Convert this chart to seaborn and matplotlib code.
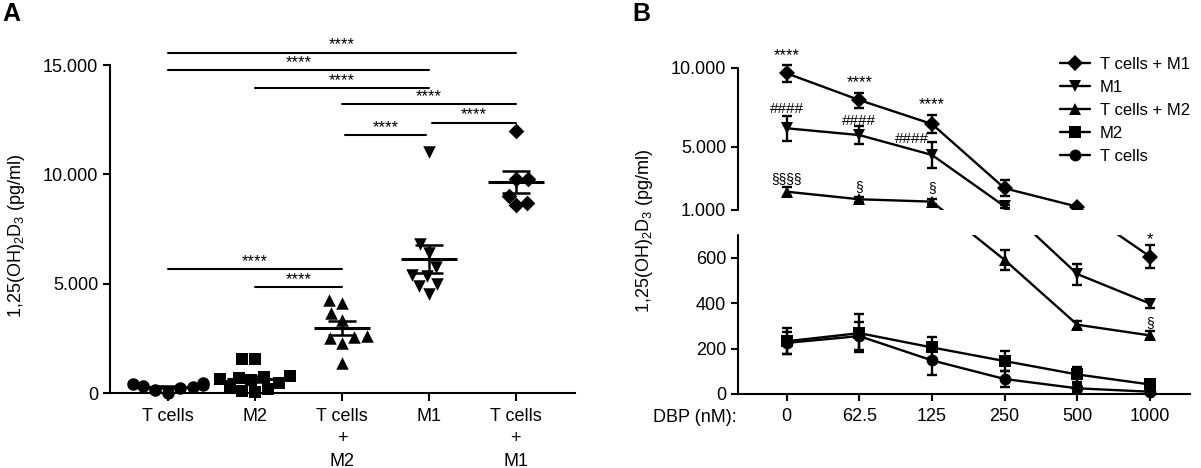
import warnings
import numpy as np
import pandas as pd
import matplotlib
matplotlib.use('Agg')
import matplotlib.pyplot as plt
import seaborn as sns

warnings.filterwarnings('ignore')

# ---- panel A data: 1,25(OH)2D3 per culture (pg/ml)
groups_a = ['T cells', 'M2', 'T cells\n+\nM2', 'M1', 'T cells\n+\nM1']
tcells_a = [420, 450, 380, 330, 280, 250, 150, 20]
m2_a = [1550, 1550, 800, 750, 700, 650, 600, 450, 300, 200, 100, 50]
tcm2_a = [4250, 4100, 3650, 3350, 2600, 2550, 2500, 2300, 1350]
m1_a = [11000, 6800, 6400, 5750, 5400, 5350, 5000, 4900, 4550]
tcm1_a = [12000, 9800, 9800, 9000, 8600, 8700]
markers_a = ['o', 's', '^', 'v', 'D']
yticks_a = [0, 5000, 10000, 15000]
ytick_labels_a = ['0', '5.000', '10.000', '15.000']
# significance brackets: (from, to, height)
sig_a = [(0, 4, 15570), (0, 3, 14750), (1, 3, 13930), (2, 4, 13200),
         (3.03, 4, 12370), (2.03, 2.97, 11780), (0, 2, 5660), (1, 2, 4840)]

# ---- panel B data: mean and SEM per DBP dose
doses = ['0', '62.5', '125', '250', '500', '1000']
series_b = ['T cells + M1', 'M1', 'T cells + M2', 'M2', 'T cells']
tcm1_mean = [9665, 7970, 6450, 2375, 1210, 605]
tcm1_sem = [530, 475, 560, 500, 90, 50]
m1_mean = [6180, 5750, 4490, 1230, 528, 398]
m1_sem = [800, 560, 850, 80, 46, 18]
tcm2_mean = [2160, 1680, 1530, 590, 305, 258]
tcm2_sem = [300, 150, 150, 44, 18, 18]
m2_mean = [232, 268, 205, 145, 86, 42]
m2_sem = [58, 84, 48, 45, 35, 15]
tc_mean = [225, 255, 148, 66, 25, 10]
tc_sem = [50, 60, 66, 35, 17, 10]
markers_b = {'T cells + M1': 'D', 'M1': 'v', 'T cells + M2': '^', 'M2': 's', 'T cells': 'o'}
yticks_b = [0, 200, 400, 600, 1000, 5000, 10000]
ytick_labels_b = ['0', '200', '400', '600', '1.000', '5.000', '10.000']
# annotations: (text, x position, y value)
notes_b = [('****', 0, 10800), ('****', 1, 9050), ('****', 2, 7650),
           ('####', 0, 7380), ('####', 1, 6640), ('####', 1.73, 5480),
           ('§§§§', 0, 2945), ('§', 1, 2480), ('§', 2, 2375),
           ('*', 5, 680), ('§', 5, 314)]

sns.set_theme(style='ticks', rc={
    'axes.edgecolor': 'black', 'axes.linewidth': 1.5,
    'xtick.color': 'black', 'ytick.color': 'black',
    'text.color': 'black', 'axes.labelcolor': 'black',
    'xtick.major.width': 1.5, 'ytick.major.width': 1.5,
})
plt.rcParams['font.family'] = ['Liberation Sans', 'DejaVu Sans']
plt.rcParams['mathtext.fontset'] = 'custom'
plt.rcParams['mathtext.rm'] = 'Liberation Sans'
plt.rcParams['mathtext.default'] = 'regular'

ylabel = '1,25(OH)$_2$D$_3$ (pg/ml)'

fig = plt.figure(figsize=(12.01, 4.68), dpi=100)

# ================= panel A =================
axA = fig.add_axes([110 / 1201, 1 - 393 / 468, 465 / 1201, 328 / 468])
values_a = [tcells_a, m2_a, tcm2_a, m1_a, tcm1_a]
for i, (vals, mk) in enumerate(zip(values_a, markers_a)):
    sns.swarmplot(x=[groups_a[i]] * len(vals), y=vals, order=groups_a, marker=mk,
                  color='black', size=9 if mk != 'D' else 8, linewidth=0, ax=axA,
                  clip_on=False, zorder=3)
    m = np.mean(vals)
    se = np.std(vals, ddof=1) / np.sqrt(len(vals))
    axA.hlines(m, i - 0.32, i + 0.32, color='black', lw=2.2, zorder=4)
    axA.errorbar(i, m, yerr=se, fmt='none', ecolor='black', elinewidth=1.8,
                 capsize=10, capthick=1.8, zorder=4)

for x1, x2, h in sig_a:
    axA.plot([x1, x2], [h, h], color='black', lw=1.5, clip_on=False)
    axA.text((x1 + x2) / 2, h + 20, '****', ha='center', va='bottom', fontsize=12)

axA.set_xlim(-0.667, 4.68)
axA.set_ylim(0, 15000)
axA.set_yticks(yticks_a)
axA.set_yticklabels(ytick_labels_a)
axA.set_xlabel('')
axA.set_ylabel(ylabel, fontsize=13)
axA.yaxis.set_label_coords(-0.178, 0.48)
axA.tick_params(axis='y', labelsize=13, length=5)
axA.tick_params(axis='x', labelsize=13, length=6, pad=5)
for lab in axA.get_xticklabels():
    lab.set_linespacing(1.4)
sns.despine(ax=axA)
fig.text(0.002, 0.995, 'A', fontsize=18, fontweight='bold', va='top', ha='left')

# ================= panel B (broken y axis) =================
axB = fig.add_axes([738 / 1201, 1 - 394 / 468, 452 / 1201, 326 / 468])


def fwd(y):
    y = np.asarray(y, dtype=float)
    return np.where(y <= 700, y * 159 / 700,
                    np.where(y <= 1000, 159 + (y - 700) * 25 / 300,
                             184 + (y - 1000) * 142 / 9000))


def inv(v):
    v = np.asarray(v, dtype=float)
    return np.where(v <= 159, v * 700 / 159,
                    np.where(v <= 184, 700 + (v - 159) * 300 / 25,
                             1000 + (v - 184) * 9000 / 142))


axB.set_yscale('function', functions=(fwd, inv))

means_b = [tcm1_mean, m1_mean, tcm2_mean, m2_mean, tc_mean]
sems_b = [tcm1_sem, m1_sem, tcm2_sem, m2_sem, tc_sem]
pos = np.arange(len(doses))
df_b = pd.DataFrame({
    'dose': np.tile(pos, len(series_b)),
    'value': np.concatenate(means_b),
    'group': np.repeat(series_b, len(doses)),
})
sns.lineplot(data=df_b, x='dose', y='value', hue='group', style='group',
             hue_order=series_b, style_order=series_b,
             palette=['black'] * len(series_b), markers=markers_b, dashes=False,
             markersize=8.5, markeredgewidth=0, lw=1.7, ax=axB, clip_on=False, zorder=2)
for mean, sem in zip(means_b, sems_b):
    axB.errorbar(pos, mean, yerr=sem, fmt='none', ecolor='black', elinewidth=1.7,
                 capsize=3.5, capthick=1.7, clip_on=False, zorder=3)

axB.set_xlim(-0.668, 5.55)
axB.set_ylim(0, 10000)
# hide the gap of the broken axis
axB.axhspan(700, 1000, color='white', zorder=2.5, lw=0)
trans = axB.get_yaxis_transform()
axB.plot([0, 0], [0, 700], transform=trans, color='black', lw=1.5, clip_on=False, zorder=6)
axB.plot([0, 0], [1000, 10000], transform=trans, color='black', lw=1.5, clip_on=False, zorder=6)
axB.spines['left'].set_visible(False)
sns.despine(ax=axB, left=True)

axB.set_yticks(yticks_b)
axB.set_yticklabels(ytick_labels_b)
axB.yaxis.set_minor_locator(matplotlib.ticker.NullLocator())
axB.set_xticks(pos)
axB.set_xticklabels(doses)
axB.tick_params(axis='y', labelsize=13, length=5)
axB.tick_params(axis='x', labelsize=13, length=5, pad=5)
axB.set_xlabel('')
axB.set_ylabel(ylabel, fontsize=13)
axB.yaxis.set_label_coords(-0.184, 0.5)
fig.text(737 / 1201, 1 - 418 / 468, 'DBP (nM):', fontsize=13, ha='right', va='center')

for txt, x, y in notes_b:
    fs = 10 if txt.startswith('§') else 12 if txt.startswith('*') else 11
    axB.text(x, y, txt, ha='center', va='center', fontsize=fs, zorder=7, clip_on=False)

handles, labels = axB.get_legend_handles_labels()
keep = [(h, l) for h, l in zip(handles, labels) if l in series_b]
axB.legend([h for h, _ in keep], [l for _, l in keep], loc='upper left',
           bbox_to_anchor=(1060 / 1201, 1 - 57 / 468), bbox_transform=fig.transFigure,
           frameon=False, fontsize=12, handlelength=1.8, handletextpad=0.6,
           labelspacing=0.48, borderpad=0, borderaxespad=0)
fig.text(632 / 1201, 0.995, 'B', fontsize=18, fontweight='bold', va='top', ha='left')

fig.savefig('out.png', dpi=100)
